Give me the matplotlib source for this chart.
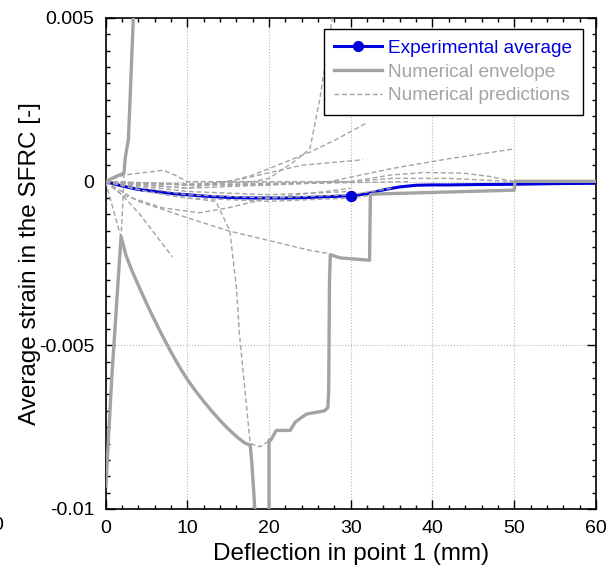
import matplotlib
matplotlib.use("Agg")
import matplotlib.pyplot as plt
import numpy as np
from matplotlib.ticker import MultipleLocator

plt.rcParams["font.family"] = ["Liberation Sans", "DejaVu Sans"]

# experimental average
exp_x = [0, 2, 4, 6, 8, 10, 12, 14, 16, 18, 20, 22, 24, 26, 28, 30,
         32, 34, 36, 38, 40, 42, 45, 50, 55, 60]
exp_y = [0, -0.00013, -0.00024, -0.0003, -0.00036, -0.0004, -0.00044,
         -0.00047, -0.00049, -0.0005, -0.0005, -0.0005, -0.00049, -0.00047,
         -0.00045, -0.00043, -0.00037, -0.00025, -0.00016, -0.00011,
         -0.0001, -0.0001, -0.00009, -0.00008, -0.00006, -0.00005]
exp_marker_idx = 15  # the one visible marker, at 30 mm

# numerical envelope (three pieces)
env_up_x = [0, 1.2, 2.26, 2.4, 2.8, 3.0, 3.4, 3.5]
env_up_y = [0, 0.00015, 0.00026, 0.0007, 0.0013, 0.0025, 0.005, 0.0056]

env_low_x = [0.05, 0.76, 1.9, 2.5, 3.2, 4.0, 5.0, 6.0, 7.0, 8.0, 9.0, 10.0,
             11.0, 12.0, 13.0, 14.0, 15.0, 16.0, 17.0, 17.7, 17.9, 18.4]
env_low_y = [-0.0093, -0.006, -0.00167, -0.00225, -0.0027, -0.00316,
             -0.00371, -0.00423, -0.00473, -0.0052, -0.00564, -0.00604,
             -0.00639, -0.00671, -0.00701, -0.00729, -0.00755, -0.00778,
             -0.00798, -0.00805, -0.0086, -0.0105]

env_tail_x = [20.0, 20.0, 20.2, 20.9, 22.6, 23.2, 24.0, 24.6, 26.8, 27.2,
              27.3, 27.4, 27.5, 28.7, 32.3, 32.4, 32.7, 40.0, 50.0, 50.1, 60.0]
env_tail_y = [-0.0105, -0.0079, -0.0079, -0.0076, -0.0076, -0.00735,
              -0.0072, -0.0071, -0.0070, -0.0069, -0.0064, -0.0030,
              -0.00223, -0.00233, -0.0024, -0.0004, -0.00038, -0.00033,
              -0.00026, 0.00001, 0.00001]

# numerical predictions
pred_a_x = [0, 10, 18, 20, 23, 25, 26.2, 27.8]
pred_a_y = [0, -0.0001, 0.0, 0.0001, 0.0006, 0.001, 0.0025, 0.0051]
pred_b_x = [0, 10, 15, 18, 25, 28.3, 32]
pred_b_y = [0, -0.0001, 0.0, 0.0002, 0.0009, 0.0013, 0.0018]
pred_c_x = [0, 10, 17, 24, 31.5]
pred_c_y = [0, -0.0002, 0.0001, 0.0005, 0.00067]
pred_d_x = [0, 10, 20, 27.4, 35, 42, 50]
pred_d_y = [0, -0.0002, -0.0001, 0.0, 0.0004, 0.0007, 0.001]
pred_e_x = [0, 10, 20, 30, 34.8, 38.9, 43.7, 47, 50]
pred_e_y = [0, -0.0001, -0.00005, 0.0, 0.0002, 0.00028, 0.00026, 0.00016, 0.0]
pred_f_x = [0, 10, 20, 30, 35, 42, 50]
pred_f_y = [0, -0.0001, -0.0001, 0.0, 0.0001, 0.0001, 0.0]
pred_g_x = [0, 15, 25, 37]
pred_g_y = [0, -0.0001, -0.00005, 0.0]
pred_h1_x = [0, 5, 10, 20, 30, 33]
pred_h1_y = [0, -0.0003, -0.0005, -0.0006, -0.0005, -0.0004]
pred_h2_x = [0, 5, 10, 20, 30, 35]
pred_h2_y = [0, -0.0002, -0.0004, -0.0005, -0.0004, -0.0002]
pred_h3_x = [0, 5, 10, 20, 30]
pred_h3_y = [0, -0.00015, -0.0003, -0.0004, -0.0003]
pred_i_x = [0, 4, 10, 15, 20, 25, 27.4]
pred_i_y = [0, -0.0006, -0.0011, -0.0015, -0.0018, -0.0021, -0.0022]
pred_j_x = [0, 2, 7, 11.5, 15, 20, 27, 30]
pred_j_y = [0, -0.0004, -0.0008, -0.00095, -0.0008, -0.0005, -0.0003, -0.0002]
pred_l_x = [0, 1.9]
pred_l_y = [0, -0.0017]
pred_m_x = [0, 2, 4.2, 8.2]
pred_m_y = [0, -0.0004, -0.001, -0.0023]
pred_n_x = [0, 5, 10, 13.5, 15.2, 16.0, 16.4, 17.7, 18.9, 20.1]
pred_n_y = [0, -0.0003, -0.0005, -0.0006, -0.0015, -0.0032, -0.0047,
            -0.008, -0.0081, -0.0079]
pred_p_x = [0, 2.2, 7.1, 8.5, 10, 20, 30]
pred_p_y = [0, 0.0002, 0.00035, 0.0002, 0.0, 0.0, 0.0]
pred_q_x = [2.26, 2.1, 1.9]
pred_q_y = [0.00026, -0.0007, -0.0017]

predictions = [
    (pred_a_x, pred_a_y), (pred_b_x, pred_b_y), (pred_c_x, pred_c_y),
    (pred_d_x, pred_d_y), (pred_e_x, pred_e_y), (pred_f_x, pred_f_y),
    (pred_g_x, pred_g_y), (pred_h1_x, pred_h1_y), (pred_h2_x, pred_h2_y),
    (pred_h3_x, pred_h3_y), (pred_i_x, pred_i_y), (pred_j_x, pred_j_y),
    (pred_l_x, pred_l_y), (pred_m_x, pred_m_y), (pred_n_x, pred_n_y),
    (pred_p_x, pred_p_y), (pred_q_x, pred_q_y),
]

GRAY = "#a3a3a3"
BLUE = "#0000dd"

fig = plt.figure(figsize=(6.16, 5.71), dpi=100)
ax = fig.add_axes([0.1713, 0.1086, 0.7962, 0.8599])

for i, (px, py) in enumerate(predictions):
    ax.plot(px, py, color=GRAY, lw=1.0, ls=(0, (3.5, 2)), zorder=3,
            label="Numerical predictions" if i == 0 else None)

ax.plot(env_up_x, env_up_y, color=GRAY, lw=2.4, zorder=4,
        label="Numerical envelope")
ax.plot(env_low_x, env_low_y, color=GRAY, lw=2.4, zorder=4)
ax.plot(env_tail_x, env_tail_y, color=GRAY, lw=2.4, zorder=4)

ax.plot(exp_x, exp_y, color=BLUE, lw=2.2, marker="o", ms=7,
        markevery=[exp_marker_idx], zorder=2, label="Experimental average")
ax.plot(exp_x[exp_marker_idx], exp_y[exp_marker_idx], "o", color=BLUE,
        ms=7, zorder=6)

ax.set_xlim(0, 60)
ax.set_ylim(-0.01, 0.005)
ax.set_xticks([0, 10, 20, 30, 40, 50, 60])
ax.set_yticks([-0.01, -0.005, 0, 0.005])
ax.set_yticklabels(["-0.01", "-0.005", "0", "0.005"])
ax.xaxis.set_minor_locator(MultipleLocator(2))
ax.yaxis.set_minor_locator(MultipleLocator(0.0005))
ax.tick_params(which="both", direction="in", top=True, right=True,
               labelsize=14, width=1.0)
ax.tick_params(which="major", length=6.5, pad=8)
ax.tick_params(which="minor", length=3)
ax.grid(True, which="major", color="#b5b5b5", ls=":", lw=0.8)
for s in ax.spines.values():
    s.set_linewidth(1.2)

ax.set_xlabel("Deflection in point 1 (mm)", fontsize=17.5)
ax.set_ylabel("Average strain in the SFRC [-]", fontsize=17.5)
ax.xaxis.set_label_coords(0.5, -0.069)
ax.yaxis.set_label_coords(-0.131, 0.5)

handles, labels = ax.get_legend_handles_labels()
order = [labels.index(t) for t in
         ["Experimental average", "Numerical envelope", "Numerical predictions"]]
leg = ax.legend([handles[k] for k in order], [labels[k] for k in order],
                loc="upper right", bbox_to_anchor=(0.973, 0.977),
                borderaxespad=0, fontsize=13.7, handlelength=2.5,
                handletextpad=0.35, labelspacing=0.33, borderpad=0.55,
                fancybox=False, framealpha=1, edgecolor="black")
leg.get_frame().set_linewidth(1.0)
for txt, col in zip(leg.get_texts(), [BLUE, GRAY, GRAY]):
    txt.set_color(col)

# stray tick label fragment at far left edge
fig.text(3 / 616, 1 - 526 / 571, "0", fontsize=14, ha="right", va="center")

fig.savefig("out.png", dpi=100)
